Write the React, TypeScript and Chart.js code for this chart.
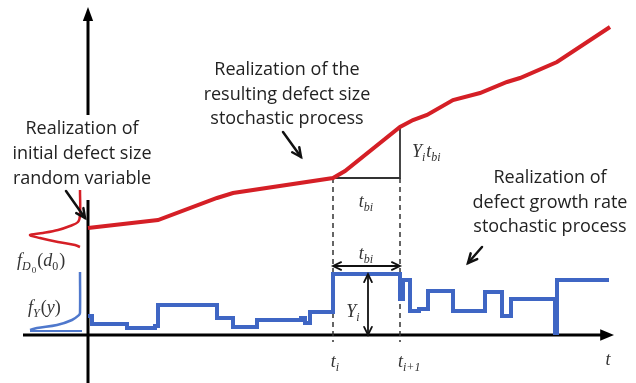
import { useEffect, useRef } from "react";
import { Chart, registerables } from "chart.js";

Chart.register(...registerables);

// Resulting defect size realization (time t, size d)
const sizeT = [0, 7, 12.9, 14.5, 24.5, 25.7, 31.2, 32.5, 33.9, 36.5, 39.2, 41.9, 43.2, 46.9, 52.2];
const sizeD = [10.7, 11.5, 13.7, 14.2, 15.7, 16.4, 20.8, 21.5, 22, 23.5, 24.2, 25.3, 25.7, 27.3, 30.8];

// Growth rate step process (step start time, rate)
const rateT = [0, 0.4, 3.9, 6.7, 7.0, 12.9, 14.5, 16.9, 21.3, 21.7, 22.2, 24.5, 31.2, 31.5, 32.2, 33.1, 34.0, 36.5, 39.7, 41.4, 42.3, 46.7, 46.9, 52.1];
const rateY = [1.9, 1.1, 0.7, 0.9, 3.0, 1.7, 0.8, 1.5, 1.7, 1.2, 2.3, 6.1, 3.6, 5.5, 2.4, 2.6, 4.4, 2.4, 4.3, 1.9, 3.6, 0.2, 5.5, 5.5];

// Initial defect size density, drawn sideways (density to the left, size upward)
const d0Dens = [-0.8, -0.8, -1.0, -1.8, -3.0, -4.5, -5.8, -4.8, -3.0, -1.3, -0.8];
const d0Size = [14.5, 12.0, 11.3, 10.9, 10.5, 10.2, 10.0, 9.7, 9.3, 9.0, 8.8];

// Growth rate density, drawn sideways
const yDens = [-0.8, -0.8, -0.9, -1.6, -3.1, -5.1, -5.8];
const ySize = [6.3, 2.2, 2.0, 1.5, 1.0, 0.7, 0.5];

const W = 636;
const H = 383;

type Run = { t: string; lv?: number; it?: boolean };

const MATH_SIZES = [18, 12, 9];
const MATH_OFFS = [0, 4, 7];
const mathFont = (r: Run) =>
  `${r.it ? "italic " : ""}${MATH_SIZES[r.lv || 0]}px "Liberation Serif"`;

function drawMath(ctx: CanvasRenderingContext2D, x: number, y: number, runs: Run[], align: "left" | "center") {
  let w = 0;
  for (const r of runs) {
    ctx.font = mathFont(r);
    w += ctx.measureText(r.t).width;
  }
  let cx = align === "center" ? x - w / 2 : x;
  ctx.textAlign = "left";
  ctx.textBaseline = "alphabetic";
  for (const r of runs) {
    ctx.font = mathFont(r);
    ctx.fillText(r.t, cx, y + MATH_OFFS[r.lv || 0]);
    cx += ctx.measureText(r.t).width + (r.lv ? 1 : 0);
  }
}

function arrowHead(ctx: CanvasRenderingContext2D, x1: number, y1: number, x2: number, y2: number, len: number, filled: boolean, spread = 0.45) {
  const a = Math.atan2(y2 - y1, x2 - x1);
  ctx.beginPath();
  ctx.moveTo(x2 - len * Math.cos(a - spread), y2 - len * Math.sin(a - spread));
  ctx.lineTo(x2, y2);
  ctx.lineTo(x2 - len * Math.cos(a + spread), y2 - len * Math.sin(a + spread));
  if (filled) {
    ctx.closePath();
    ctx.fill();
  } else {
    ctx.stroke();
  }
}

const pts = (xs: number[], ys: number[]) => xs.map((x, i) => ({ x, y: ys[i] }));

export default function App() {
  const ref = useRef<HTMLCanvasElement | null>(null);

  useEffect(() => {
    const canvas = ref.current;
    if (!canvas) return;

    const overlay = {
      id: "overlay",
      afterDatasetsDraw(chart: any) {
        const ctx: CanvasRenderingContext2D = chart.ctx;
        const xs = chart.scales.x;
        const ys = chart.scales.y;
        const P = (t: number, v: number) => [xs.getPixelForValue(t), ys.getPixelForValue(v)];
        ctx.save();

        // axis arrowheads
        ctx.fillStyle = "#000";
        {
          const [a, b] = P(49, 0);
          const [c, d] = P(52.6, 0);
          arrowHead(ctx, a, b, c, d, 15, true, 0.4);
          const [e, f] = P(0, 28);
          const [g, h] = P(0, 32.8);
          arrowHead(ctx, e, f, g, h, 15, true, 0.35);
        }

        // annotation arrows
        ctx.strokeStyle = "#111";
        ctx.lineWidth = 2.5;
        ctx.lineCap = "round";
        const arrows = [
          [19.5, 20.3, 21.3, 17.8],
          [-2.2, 14.4, -0.3, 11.7],
          [39.4, 8.8, 38.0, 7.2],
        ];
        for (const [t1, v1, t2, v2] of arrows) {
          const [x1, y1] = P(t1, v1);
          const [x2, y2] = P(t2, v2);
          ctx.beginPath();
          ctx.moveTo(x1, y1);
          ctx.lineTo(x2, y2);
          ctx.stroke();
          arrowHead(ctx, x1, y1, x2, y2, 10, false);
        }

        // double arrows
        ctx.lineWidth = 1.8;
        ctx.strokeStyle = "#111";
        {
          const [x1, y1] = P(24.5, 6.9);
          const [x2, y2] = P(31.2, 6.9);
          arrowHead(ctx, x2, y2, x1, y1, 9, false);
          arrowHead(ctx, x1, y1, x2, y2, 9, false);
          const [x3, y3] = P(28.0, 6.1);
          const [x4, y4] = P(28.0, 0);
          arrowHead(ctx, x4, y4, x3, y3, 9, false);
          arrowHead(ctx, x3, y3, x4, y4, 9, false);
        }

        // text blocks
        ctx.fillStyle = "#222";
        ctx.font = '18px "Open Sans"';
        ctx.textAlign = "center";
        ctx.textBaseline = "alphabetic";
        const blocks: [number, number[], string[]][] = [
          [19.9, [26.0, 23.5, 21.1], ["Realization of the", "resulting defect size", "stochastic process"]],
          [-0.6, [20.1, 17.6, 15.1], ["Realization of", "initial defect size", "random variable"]],
          [46.2, [15.2, 12.7, 10.3], ["Realization of", "defect growth rate", "stochastic process"]],
        ];
        for (const [t, vs, lines] of blocks) {
          lines.forEach((s, i) => {
            const [x, y] = P(t, vs[i]);
            ctx.fillText(s, x, y);
          });
        }

        // math labels
        ctx.fillStyle = "#333";
        const m = (t: number, v: number, runs: Run[], al: "left" | "center") => {
          const [x, y] = P(t, v);
          drawMath(ctx, x, y, runs, al);
        };
        m(-7.1, 6.9, [{ t: "f", it: true }, { t: "D", lv: 1, it: true }, { t: "0", lv: 2 }, { t: "(" }, { t: "d", it: true }, { t: "0", lv: 1 }, { t: ")" }], "left");
        m(-6.0, 2.2, [{ t: "f", it: true }, { t: "Y", lv: 1, it: true }, { t: "(" }, { t: "y", it: true }, { t: ")" }], "left");
        m(27.8, 12.8, [{ t: "t", it: true }, { t: "bi", lv: 1, it: true }], "center");
        m(32.4, 17.8, [{ t: "Y", it: true }, { t: "i", lv: 1, it: true }, { t: "t", it: true }, { t: "bi", lv: 1, it: true }], "left");
        m(27.8, 7.6, [{ t: "t", it: true }, { t: "bi", lv: 1, it: true }], "center");
        m(26.5, 1.8, [{ t: "Y", it: true }, { t: "i", lv: 1, it: true }], "center");
        m(24.7, -3.2, [{ t: "t", it: true }, { t: "i", lv: 1, it: true }], "center");
        m(31.0, -3.2, [{ t: "t", it: true }, { t: "i+1", lv: 1, it: true }], "left");
        m(52.0, -3.0, [{ t: "t", it: true }], "center");

        ctx.restore();
      },
    };

    const red = "#d51f26";
    const blue = "#3f66c4";
    const lightBlue = "#4f78cc";

    const chart = new Chart(canvas, {
      type: "line",
      data: {
        datasets: [
          { data: pts(sizeT, sizeD), borderColor: red, borderWidth: 4, order: 1 },
          { data: pts(rateT, rateY), borderColor: blue, borderWidth: 4, stepped: "before", order: 2, borderJoinStyle: "miter" },
          { data: pts(d0Dens, d0Size), borderColor: red, borderWidth: 2.5, tension: 0.35, order: 3 },
          { data: pts(yDens, ySize), borderColor: lightBlue, borderWidth: 2.5, tension: 0.35, order: 3 },
          { data: pts([-5.8, -0.6], [0.4, 0.4]), borderColor: lightBlue, borderWidth: 2, order: 3 },
          // x axis and y axis
          { data: pts([-6.5, 51.5], [0, 0]), borderColor: "#000", borderWidth: 3, order: 5 },
          { data: pts([0, 0], [22.0, 31.6]), borderColor: "#000", borderWidth: 3, order: 5 },
          { data: pts([0, 0], [-4.8, 13.5]), borderColor: "#000", borderWidth: 3, order: 5 },
          // triangle
          { data: pts([24.5, 31.2, 31.2], [15.7, 15.7, 20.8]), borderColor: "#333", borderWidth: 1.8, order: 4 },
          // dashed guides
          { data: pts([24.5, 24.5], [15.7, -0.7]), borderColor: "#333", borderWidth: 1.5, borderDash: [5, 4], order: 4 },
          { data: pts([31.2, 31.2], [15.7, -0.7]), borderColor: "#333", borderWidth: 1.5, borderDash: [5, 4], order: 4 },
          // double arrow shafts
          { data: pts([24.7, 31.0], [6.9, 6.9]), borderColor: "#111", borderWidth: 1.8, order: 4 },
          { data: pts([28.0, 28.0], [0.2, 5.9]), borderColor: "#111", borderWidth: 1.8, order: 4 },
        ] as any,
      },
      options: {
        animation: false,
        responsive: false,
        devicePixelRatio: 1,
        layout: { padding: 0 },
        elements: { point: { radius: 0, hoverRadius: 0 }, line: { tension: 0, fill: false } },
        plugins: { legend: { display: false }, tooltip: { enabled: false } },
        scales: {
          x: { type: "linear", min: -8.8, max: 54.8, display: false },
          y: { type: "linear", min: -4.8, max: 33.5, display: false },
        },
      } as any,
      plugins: [overlay],
    });

    return () => chart.destroy();
  }, []);

  return (
    <div style={{ position: "fixed", left: 0, top: 0, width: W, height: H, background: "#fff" }}>
      <canvas ref={ref} width={W} height={H} style={{ display: "block", width: W, height: H }} />
    </div>
  );
}
